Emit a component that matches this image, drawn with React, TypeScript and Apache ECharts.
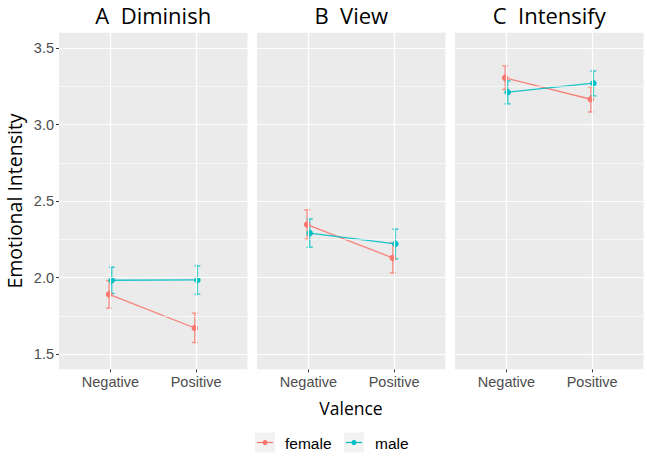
import React, { useEffect, useRef } from "react";
import * as echarts from "echarts";

const panels = ["A  Diminish", "B  View", "C  Intensify"];
const valence = ["Negative", "Positive"];
const genders = ["female", "male"];
const colors = ["#F8766D", "#00BFC4"];

// mean, lower, upper per panel -> [Negative, Positive]
const femaleMean = [[1.89, 1.67], [2.346, 2.128], [3.305, 3.165]];
const femaleLo = [[1.80, 1.575], [2.25, 2.03], [3.229, 3.082]];
const femaleHi = [[1.98, 1.767], [2.442, 2.226], [3.383, 3.246]];
const maleMean = [[1.982, 1.984], [2.29, 2.22], [3.211, 3.27]];
const maleLo = [[1.895, 1.891], [2.198, 2.122], [3.135, 3.187]];
const maleHi = [[2.067, 2.076], [2.383, 2.316], [3.285, 3.35]];

const yTicks = [1.5, 2.0, 2.5, 3.0, 3.5];
const yMinor = [1.75, 2.25, 2.75, 3.25];
const yMin = 1.4;
const yMax = 3.6;

export default function App() {
  const ref = useRef<HTMLDivElement>(null);
  useEffect(() => {
    if (!ref.current) return;
    const chart = echarts.init(ref.current, undefined, { renderer: "svg" });
    const lefts = [59, 257, 455];
    const W = 188.5;
    const top = 32.7;
    const H = 336.6;
    const dodge = 0.015;
    const means = [femaleMean, maleMean];
    const los = [femaleLo, maleLo];
    const his = [femaleHi, maleHi];

    const grid: any[] = [];
    const xAxis: any[] = [];
    const yAxis: any[] = [];
    const series: any[] = [];
    const graphic: any[] = [];

    panels.forEach((title, p) => {
      grid.push({
        left: lefts[p], top, width: W, height: H,
        show: true, backgroundColor: "#EBEBEB", borderWidth: 0,
      });
      xAxis.push({
        type: "value", gridIndex: p, min: 0.4, max: 2.6,
        splitLine: { show: false },
        axisLine: { show: false },
        axisTick: { show: true, customValues: [1, 2], length: 3, lineStyle: { color: "#333333", width: 1 } },
        axisLabel: {
          customValues: [1, 2],
          formatter: (v: number) => valence[Math.round(v) - 1] ?? "",
          color: "#4D4D4D", fontSize: 14.5, fontFamily: "Liberation Sans", margin: 5,
        },
      });
      yAxis.push({
        type: "value", gridIndex: p, min: yMin, max: yMax,
        splitLine: { show: false },
        axisLine: { show: false },
        axisTick: { show: p === 0, customValues: yTicks, length: 3, lineStyle: { color: "#333333", width: 1 } },
        axisLabel: {
          show: p === 0, customValues: yTicks,
          formatter: (v: number) => v.toFixed(1),
          color: "#4D4D4D", fontSize: 14.5, fontFamily: "Liberation Sans", margin: 5,
        },
      });
      // grid lines
      series.push({
        type: "line", xAxisIndex: p, yAxisIndex: p, data: [], z: 1, silent: true,
        markLine: {
          silent: true, symbol: ["none", "none"], label: { show: false },
          animation: false,
          data: [
            ...yMinor.map((v) => ({ yAxis: v, lineStyle: { color: "#FFFFFF", width: 0.6, type: "solid" } })),
            ...yTicks.map((v) => ({ yAxis: v, lineStyle: { color: "#FFFFFF", width: 1.2, type: "solid" } })),
            ...[1, 2].map((v) => ({ xAxis: v, lineStyle: { color: "#FFFFFF", width: 1.2, type: "solid" } })),
          ],
        },
      });
      genders.forEach((g, gi) => {
        const off = gi === 0 ? -dodge : dodge;
        const errData = [0, 1].map((k) => [k + 1 + off, los[gi][p][k], his[gi][p][k]]);
        series.push({
          type: "custom", name: g, xAxisIndex: p, yAxisIndex: p, z: 3, silent: true,
          data: errData,
          renderItem: (params: any, api: any) => {
            const x = api.value(0), lo = api.value(1), hi = api.value(2);
            const a = api.coord([x, lo]);
            const b = api.coord([x, hi]);
            const cw = 3;
            const style = { stroke: colors[gi], lineWidth: 1.5, opacity: 0.75 };
            return {
              type: "group",
              children: [
                { type: "line", shape: { x1: a[0], y1: a[1], x2: b[0], y2: b[1] }, style },
                { type: "line", shape: { x1: a[0] - cw, y1: a[1], x2: a[0] + cw, y2: a[1] }, style },
                { type: "line", shape: { x1: b[0] - cw, y1: b[1], x2: b[0] + cw, y2: b[1] }, style },
              ],
            };
          },
        });
        series.push({
          type: "line", name: g, xAxisIndex: p, yAxisIndex: p, z: 4, silent: true,
          data: [0, 1].map((k) => [k + 1 + off, means[gi][p][k]]),
          symbol: "circle", symbolSize: 6.5,
          itemStyle: { color: colors[gi] },
          lineStyle: { color: colors[gi], width: 1.3, opacity: 0.9 },
        });
      });
      graphic.push({
        type: "text", x: lefts[p] + W / 2, y: 15,
        style: {
          text: title, fill: "#000000", fontSize: 22, fontFamily: "Open Sans",
          align: "center", verticalAlign: "middle",
        },
      });
    });

    graphic.push({
      type: "text", x: 14, y: 201, rotation: Math.PI / 2,
      style: {
        text: "Emotional Intensity", fill: "#000000", fontSize: 19.5, fontFamily: "Open Sans",
        align: "center", verticalAlign: "middle",
      },
    });
    graphic.push({
      type: "text", x: 351, y: 408,
      style: {
        text: "Valence", fill: "#000000", fontSize: 17.5, fontFamily: "Open Sans",
        align: "center", verticalAlign: "middle",
      },
    });
    const keyX = [255, 344];
    const labelX = [285, 375];
    genders.forEach((g, gi) => {
      graphic.push({ type: "rect", shape: { x: keyX[gi], y: 432.5, width: 20, height: 20 }, style: { fill: "#F2F2F2" } });
      graphic.push({ type: "line", shape: { x1: keyX[gi] + 2, y1: 442.5, x2: keyX[gi] + 18, y2: 442.5 }, style: { stroke: colors[gi], lineWidth: 1.2 } });
      graphic.push({ type: "circle", shape: { cx: keyX[gi] + 10, cy: 442.5, r: 2.5 }, style: { fill: colors[gi] } });
      graphic.push({
        type: "text", x: labelX[gi], y: 443,
        style: { text: g, fill: "#000000", fontSize: 15.5, fontFamily: "Liberation Sans", align: "left", verticalAlign: "middle" },
      });
    });

    chart.setOption({
      animation: false,
      backgroundColor: "#FFFFFF",
      grid, xAxis, yAxis, series, graphic,
    });
    return () => chart.dispose();
  }, []);
  return <div ref={ref} style={{ width: 647, height: 457, position: "absolute", left: 0, top: 0 }} />;
}
